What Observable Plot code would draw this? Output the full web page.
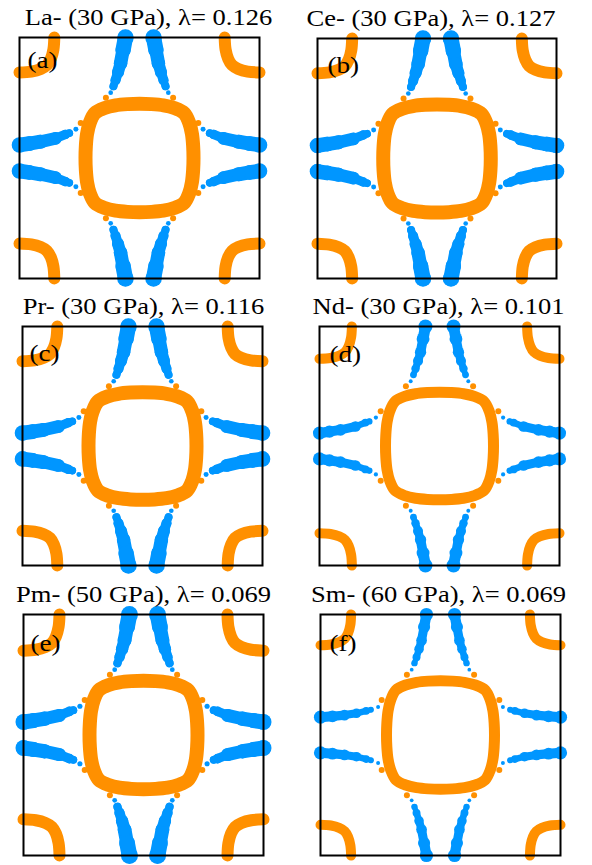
<!DOCTYPE html>
<html>
<head>
<meta charset="utf-8">
<script src="https://cdn.jsdelivr.net/npm/d3@7"></script>
<script src="https://cdn.jsdelivr.net/npm/@observablehq/plot@0.6"></script>
<style>
html, body { margin: 0; padding: 0; background: #fff; }
#fig { position: relative; width: 592px; height: 865px; overflow: hidden; background: #fff; }
#fig > svg { position: absolute; }
</style>
</head>
<body>
<div id="fig"></div>
<script>
// ---------------- data (k in units of pi/a, BZ = [-1,1]^2) ----------------
const elements  = ["La", "Ce", "Pr", "Nd", "Pm", "Sm"];
const pressures = [30, 30, 30, 30, 50, 60];
const lambdas   = [0.126, 0.127, 0.116, 0.101, 0.069, 0.069];
const panelLabels = ["(a)", "(b)", "(c)", "(d)", "(e)", "(f)"];

// central (Gamma) pocket: first-quadrant outline, repeated by 4-fold rotation
const pocketQuadrant = [[0.45, 0], [0.447, 0.1], [0.437, 0.2], [0.415, 0.29],
                        [0.372, 0.372], [0.29, 0.415], [0.2, 0.437], [0.1, 0.447]];
// small protrusions on the central pocket (one quadrant)
const pocketBumps = [[-0.49, 0.29], [-0.28, 0.5]];

// corner (M) pocket arc: offsets from the BZ corner, normalised to the pocket size
const cornerArc = [[0, 1], [0.34, 0.975], [0.61, 0.9], [0.79, 0.79], [0.9, 0.61], [0.975, 0.34], [1, 0]];
const cornerSize = [0.29, 0.29, 0.29, 0.27, 0.30, 0.255];

// electron sheets [kx, ky, weight] (one branch each, mirrored in kx and ky)
const sheetV = [[-0.117, 1.0, 1.0], [-0.137, 0.896, 0.92], [-0.158, 0.785, 0.81],
                [-0.179, 0.712, 0.72], [-0.2, 0.646, 0.6], [-0.217, 0.596, 0.48]];
const sheetVTip = [[-0.24, 0.542, 0.28]];
const sheetH = [[-1.0, -0.108, 0.94], [-0.917, -0.12, 0.88], [-0.825, -0.135, 0.84],
                [-0.7, -0.163, 0.76], [-0.617, -0.196, 0.56], [-0.585, -0.206, 0.46]];
const sheetHTip = [[-0.53, -0.238, 0.3]];
const sheetHSm = [[-1.0, -0.148, 1.0], [-0.9, -0.155, 0.9], [-0.8, -0.165, 0.82],
                  [-0.7, -0.18, 0.72], [-0.62, -0.2, 0.58], [-0.58, -0.21, 0.45]];
const sheetHSmTip = [[-0.52, -0.232, 0.3]];

// ---------------- layout / style ----------------
const ORANGE = "#ff9000", BLUE = "#0096ff";
const FONT = "Liberation Serif, Times New Roman, serif";
const TITLE_SIZE = 23.5, LABEL_SIZE = 24, TEXT_SCALE_X = 1.13;
const layout = [
  {left: 19,  top: 37,  right: 259, bottom: 278, titleDx: 9,  labelDx: 8,  labelDy: 30},
  {left: 317, top: 38,  right: 556, bottom: 278, titleDx: -6, labelDx: 10, labelDy: 34},
  {left: 22,  top: 326, right: 262, bottom: 565, titleDx: 1,  labelDx: 7,  labelDy: 34},
  {left: 319, top: 326, right: 559, bottom: 565, titleDx: -1, labelDx: 10, labelDy: 35},
  {left: 23,  top: 614, right: 263, bottom: 855, titleDx: 0,  labelDx: 7,  labelDy: 36},
  {left: 320, top: 614, right: 560, bottom: 855, titleDx: -2, labelDx: 9,  labelDy: 36}
];
const style = [
  {rMax: 8.3, link: 1.0,  pocketW: 14, cornerW: 12},
  {rMax: 8.3, link: 1.0,  pocketW: 14, cornerW: 12},
  {rMax: 8.3, link: 1.0,  pocketW: 14, cornerW: 12},
  {rMax: 7.0, link: 0.85, pocketW: 11, cornerW: 10},
  {rMax: 8.5, link: 1.0,  pocketW: 14, cornerW: 12},
  {rMax: 6.6, link: 0.85, pocketW: 11, cornerW: 10}
];
const mirrors = [[1, 1], [-1, 1], [-1, -1], [1, -1]];

function buildPanel(i) {
  const L = layout[i], S = style[i];
  const W = 296, H = 289;
  const mL = 19, mT = 37;
  const mR = W - mL - (L.right - L.left);
  const mB = H - mT - (L.bottom - L.top);

  // central pocket loop
  const pocket = [];
  for (let k = 0; k < 4; k++) {
    for (const [x0, y0] of pocketQuadrant) {
      let p = [x0, y0];
      for (let j = 0; j < k; j++) p = [-p[1], p[0]];
      pocket.push({x: p[0], y: p[1]});
    }
  }
  const bumps = [];
  for (const [sx, sy] of mirrors) for (const [x, y] of pocketBumps) bumps.push({x: x * sx, y: y * sy});

  // corner arcs
  const corners = [];
  mirrors.forEach(([cx, cy], c) => {
    for (const [ox, oy] of cornerArc) {
      corners.push({arc: c, x: cx * (1 - ox * cornerSize[i]), y: cy * (1 - oy * cornerSize[i])});
    }
  });

  // electron sheets
  const hSheet = i === 5 ? sheetHSm : sheetH;
  const hTip = i === 5 ? sheetHSmTip : sheetHTip;
  const branches = [];
  for (const [sx, sy] of mirrors) {
    branches.push({body: sheetV.map(([x, y, w]) => ({x: x * sx, y: y * sy, w})),
                   tip: sheetVTip.map(([x, y, w]) => ({x: x * sx, y: y * sy, w}))});
    branches.push({body: hSheet.map(([x, y, w]) => ({x: x * sx, y: y * sy, w})),
                   tip: hTip.map(([x, y, w]) => ({x: x * sx, y: y * sy, w}))});
  }
  const segs = [], dots = [];
  for (const b of branches) {
    for (let j = 0; j + 1 < b.body.length; j++) {
      const a = b.body[j], c = b.body[j + 1];
      segs.push({x1: a.x, y1: a.y, x2: c.x, y2: c.y, w: Math.min(a.w, c.w)});
    }
    dots.push(...b.body, ...b.tip);
  }

  const title = `${elements[i]}- (${pressures[i]} GPa), λ= ${lambdas[i].toFixed(3)}`;

  const svg = Plot.plot({
    width: W, height: H,
    marginLeft: mL, marginTop: mT, marginRight: mR, marginBottom: mB,
    x: {domain: [-1, 1], axis: null},
    y: {domain: [-1, 1], axis: null},
    r: {type: "linear", domain: [0, 1], range: [0, S.rMax]},
    style: {background: "transparent", overflow: "visible"},
    marks: [
      Plot.line(corners, {x: "x", y: "y", z: "arc", curve: "catmull-rom", stroke: ORANGE,
                          strokeWidth: S.cornerW, strokeLinecap: "round", strokeLinejoin: "round"}),
      Plot.line(pocket, {x: "x", y: "y", curve: "catmull-rom-closed", stroke: ORANGE,
                         strokeWidth: S.pocketW, strokeLinejoin: "round"}),
      Plot.dot(bumps, {x: "x", y: "y", r: 3, fill: ORANGE}),
      Plot.link(segs, {x1: "x1", y1: "y1", x2: "x2", y2: "y2", stroke: BLUE,
                       strokeWidth: d => 2 * S.rMax * d.w * S.link, strokeLinecap: "round"}),
      Plot.dot(dots, {x: "x", y: "y", r: "w", fill: BLUE}),
      Plot.text([panelLabels[i]], {text: d => d, frameAnchor: "top-left", textAnchor: "start",
                 lineAnchor: "middle", dx: L.labelDx, dy: L.labelDy - 0.32 * LABEL_SIZE,
                 fontSize: LABEL_SIZE, fontFamily: FONT, fill: "black"}),
      Plot.text([title], {text: d => d, frameAnchor: "top", lineAnchor: "middle",
                 dx: L.titleDx, dy: -13 - 0.32 * TITLE_SIZE,
                 fontSize: TITLE_SIZE, fontFamily: FONT, fill: "black"}),
      Plot.frame({stroke: "black", strokeWidth: 2})
    ]
  });
  // the reference typeface is a little wider than Liberation Serif: widen glyphs about their anchor
  svg.querySelectorAll("text").forEach(t => {
    const tr = t.getAttribute("transform");
    if (tr) {
      t.setAttribute("transform", `${tr} scale(${TEXT_SCALE_X},1)`);
    } else {
      const x = +t.getAttribute("x") || 0, y = +t.getAttribute("y") || 0;
      t.removeAttribute("x"); t.removeAttribute("y");
      t.setAttribute("transform", `translate(${x},${y}) scale(${TEXT_SCALE_X},1)`);
    }
  });
  svg.style.left = (L.left - mL) + "px";
  svg.style.top = (L.top - mT) + "px";
  return svg;
}

const fig = document.getElementById("fig");
for (let i = 0; i < 6; i++) fig.appendChild(buildPanel(i));
</script>
</body>
</html>
